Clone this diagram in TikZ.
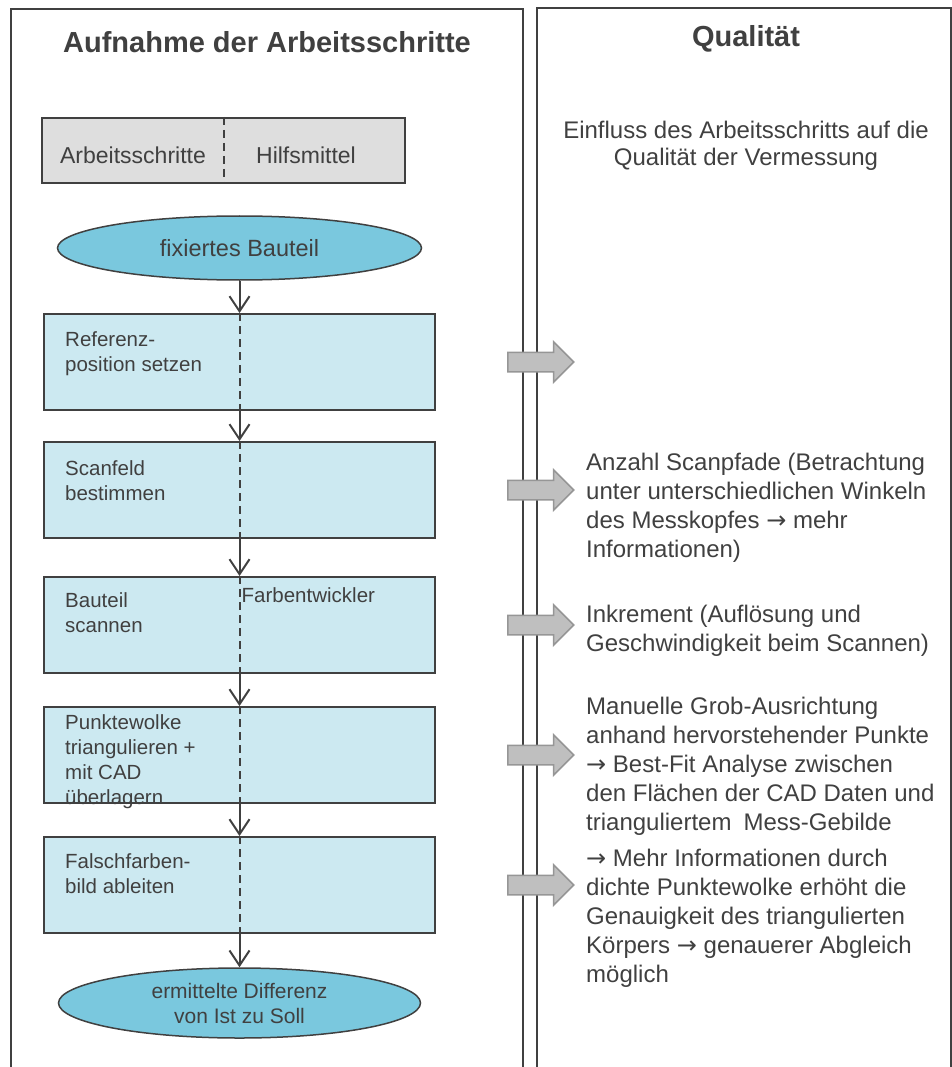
\documentclass[tikz,border=0pt]{standalone}
\usepackage{fontspec}
\setmainfont{Liberation Sans}
\newfontfamily\arrowfont{DejaVu Sans}
\newcommand{\ra}{{\arrowfont →}}
\usepackage{xcolor}
\usepackage{tikz}
\usetikzlibrary{shapes,arrows.meta,positioning}

\definecolor{linegray}{RGB}{64,64,64}
\definecolor{txtgray}{RGB}{64,64,64}
\definecolor{stepblue}{RGB}{204,233,241}
\definecolor{endblue}{RGB}{122,200,222}
\definecolor{headgray}{RGB}{222,222,222}
\definecolor{arrowfill}{RGB}{191,191,191}
\definecolor{arrowline}{RGB}{150,150,150}

\tikzset{
    frame/.style={line width=2pt, color=linegray},
    stepbox/.style={
        draw=linegray,
        line width=2pt,
        fill=stepblue,
        minimum width=391pt,
        minimum height=96pt,
        inner sep=0pt
    },
    endpoint/.style={
        ellipse,
        draw=linegray,
        line width=1.5pt,
        fill=endblue,
        inner sep=0pt,
        text=txtgray,
        align=center
    },
    steptext/.style={inner sep=0pt, text=txtgray, align=left, font=\fontsize{20.5}{25}\selectfont},
    qualtext/.style={inner sep=0pt, text=txtgray, align=left, anchor=north west, font=\fontsize{24}{29}\selectfont},
    flow/.style={line width=2pt, color=linegray, -{Straight Barb[length=15pt,width=20pt]}},
    divider/.style={line width=2pt, color=linegray, dash pattern=on 8pt off 5pt},
    influence/.style={
        single arrow,
        draw=arrowline,
        line width=1.5pt,
        fill=arrowfill,
        minimum height=66pt,
        single arrow head extend=10.5pt,
        inner xsep=0pt,
        inner ysep=9pt
    }
}

\begin{document}
\begin{tikzpicture}[x=1pt,y=-1pt]
                \useasboundingbox (0,0) rectangle (952,1067);

                % two columns
                \draw[frame] (11,1067) -- (11,9) -- (523,9) -- (523,1067);
                \draw[frame] (537,1067) -- (537,8) -- (951,8) -- (951,1067);

                \node[text=txtgray, font=\bfseries\fontsize{29}{35}\selectfont] (title-left) at (267,42) {Aufnahme der Arbeitsschritte};
                \node[text=txtgray, font=\bfseries\fontsize{29}{35}\selectfont] (title-right) at (746,39) {Qualität};

                % legend
                \node[
                    draw=linegray,
                    line width=2pt,
                    fill=headgray,
                    minimum width=363pt,
                    minimum height=65pt
                    ] (head) at (223.5,150.5) {};
                \draw[divider] (head.north) -- (head.south);
                \node[text=txtgray, font=\fontsize{23}{27}\selectfont] (head-step) at (133,155) {Arbeitsschritte};
                \node[text=txtgray, font=\fontsize{23}{27}\selectfont] (head-aid) at (306,155) {Hilfsmittel};

                \node[qualtext, anchor=north, align=center, font=\fontsize{24}{27}\selectfont] (qual-head) at (746,121)
                    {Einfluss des Arbeitsschritts auf die\\Qualität der Vermessung};

                % flow
                \node[endpoint, minimum width=364pt, minimum height=64pt, font=\fontsize{23.5}{28}\selectfont] (start) at (239.5,248) {fixiertes Bauteil};
                \node[stepbox] (ref) at (239.5,362) {};
                \node[stepbox] (field) at (239.5,490) {};
                \node[stepbox] (scan) at (239.5,625) {};
                \node[stepbox] (mesh) at (239.5,755) {};
                \node[stepbox] (color) at (239.5,885) {};
                \node[endpoint, minimum width=362pt, minimum height=70pt, font=\fontsize{21}{25}\selectfont] (result) at (239.5,1003)
                    {ermittelte Differenz\\von Ist zu Soll};

                \foreach \stp in {ref,field,scan,mesh,color}
                    \draw[divider] (\stp.north) -- (\stp.south);

                \draw[flow] (start) -- (ref);
                \draw[flow] (ref) -- (field);
                \draw[flow] (field) -- (scan);
                \draw[flow] (scan) -- (mesh);
                \draw[flow] (mesh) -- (color);
                \draw[flow] (color) -- (result);

                \node[steptext, below right=18pt and 22pt of ref.north west] (ref-txt) {Referenz-\\position setzen};
                \node[steptext, below right=19pt and 22pt of field.north west] (field-txt) {Scanfeld\\bestimmen};
                \node[steptext, below right=16pt and 22pt of scan.north west] (scan-txt) {Bauteil\\scannen};
                \node[steptext, below right=11pt and 2pt of scan.north] (scan-aid) {Farbentwickler};
                \node[steptext, below right=8pt and 22pt of mesh.north west] (mesh-txt) {Punktewolke\\triangulieren +\\mit CAD\\überlagern};
                \node[steptext, below right=17pt and 22pt of color.north west] (color-txt) {Falschfarben-\\bild ableiten};

                % influence on quality
                \foreach \stp in {ref,field,scan,mesh,color}
                    \node[influence, right=71pt of \stp] (\stp-arr) {};

                \node[qualtext] (field-q) at (586,453)
                    {Anzahl Scanpfade (Betrachtung\\unter unterschiedlichen Winkeln\\des Messkopfes \ra{} mehr\\Informationen)};
                \node[qualtext] (scan-q) at (586,605)
                    {Inkrement (Auflösung und\\Geschwindigkeit beim Scannen)};
                \node[qualtext] (mesh-q) at (586,697)
                    {Manuelle Grob-Ausrichtung\\anhand hervorstehender Punkte\\\ra{} Best-Fit Analyse zwischen\\den Flächen der CAD Daten und\\trianguliertem\enspace Mess-Gebilde};
                \node[qualtext] (color-q) at (586,849)
                    {\ra{} Mehr Informationen durch\\dichte Punktewolke erhöht die\\Genauigkeit des triangulierten\\Körpers \ra{} genauerer Abgleich\\möglich};

            \end{tikzpicture}
\end{document}
